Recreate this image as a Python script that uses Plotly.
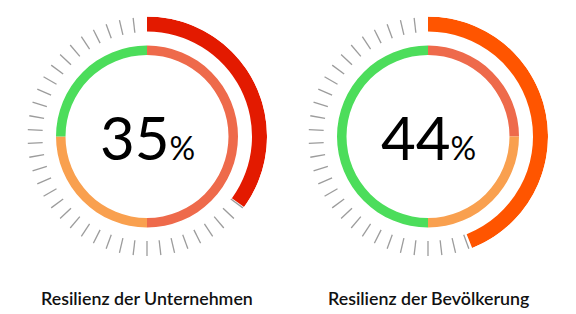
import plotly.graph_objects as go

# ---- data ----
gauge_labels = ["Resilienz der Unternehmen", "Resilienz der Bevölkerung"]
gauge_values = [35, 44]                      # percent shown in outer arc
arc_colors = ["#E31A00", "#FF5500"]
segment_colors = ["#EE6A4B", "#F9A04F", "#4CDD5B"]   # salmon, orange, green
segment_shares = [[50, 25, 25], [25, 25, 50]]       # percent of inner ring
tick_count = 54

# ---- styling / geometry ----
W, H = 576, 314
centers_px = [147, 428]
cy_px = 136.5
R = 120
ring_in, ring_out = 81.5, 91
arc_in, arc_out = 105, 120
tick_in, tick_out = 104.5, 119.5

fig = go.Figure()
layout_polars = {}
for i, (lab, val) in enumerate(zip(gauge_labels, gauge_values)):
    pname = "polar" if i == 0 else f"polar{i+1}"
    cx = centers_px[i]
    dom_x = [(cx - R) / W, (cx + R) / W]
    dom_y = [(H - cy_px - R) / H, (H - cy_px + R) / H]
    layout_polars[pname] = dict(
        domain=dict(x=dom_x, y=dom_y),
        bgcolor="white",
        radialaxis=dict(range=[0, R], visible=False),
        angularaxis=dict(rotation=90, direction="clockwise", visible=False),
        bargap=0,
    )
    # inner ring segments
    start = 0
    thetas, widths = [], []
    for s in segment_shares[i]:
        thetas.append((start + s / 2) * 3.6)
        widths.append(s * 3.6)
        start += s
    fig.add_trace(go.Barpolar(
        r=[ring_out - ring_in] * len(thetas), base=[ring_in] * len(thetas),
        theta=thetas, width=widths,
        marker=dict(color=segment_colors, line=dict(width=0)),
        subplot=pname, showlegend=False, hoverinfo="skip"))
    # ticks (only on the part of the circle not covered by the value arc)
    tr, tt = [], []
    step = 360 / tick_count
    for k in range(tick_count):
        a = k * step
        if a <= val * 3.6:
            continue
        tr += [tick_in, tick_out, None]
        tt += [a, a, None]
    fig.add_trace(go.Scatterpolar(
        r=tr, theta=tt, mode="lines",
        line=dict(color="#9c9c9c", width=1.3),
        subplot=pname, showlegend=False, hoverinfo="skip"))
    # outer value arc
    fig.add_trace(go.Barpolar(
        r=[arc_out - arc_in], base=[arc_in],
        theta=[val * 3.6 / 2], width=[val * 3.6],
        marker=dict(color=arc_colors[i], line=dict(width=0)),
        subplot=pname, showlegend=False, hoverinfo="skip"))

annotations = []
for i, (lab, val) in enumerate(zip(gauge_labels, gauge_values)):
    cx = centers_px[i] / W
    annotations.append(dict(
        x=cx, y=(H - cy_px) / H, xref="paper", yref="paper",
        xanchor="center", yanchor="middle", showarrow=False,
        text=f"{val}<span style='font-size:32px'>%</span>",
        font=dict(family="Lato", size=60, color="#000000")))
    annotations.append(dict(
        x=cx, y=(H - 298) / H, xref="paper", yref="paper",
        xanchor="center", yanchor="middle", showarrow=False,
        text=lab,
        font=dict(family="Lato", size=17.8, color="#111111", weight=600)))

fig.update_layout(
    width=W, height=H, margin=dict(l=0, r=0, t=0, b=0),
    paper_bgcolor="white", plot_bgcolor="white",
    annotations=annotations, **layout_polars)

fig.write_html("out.html")
